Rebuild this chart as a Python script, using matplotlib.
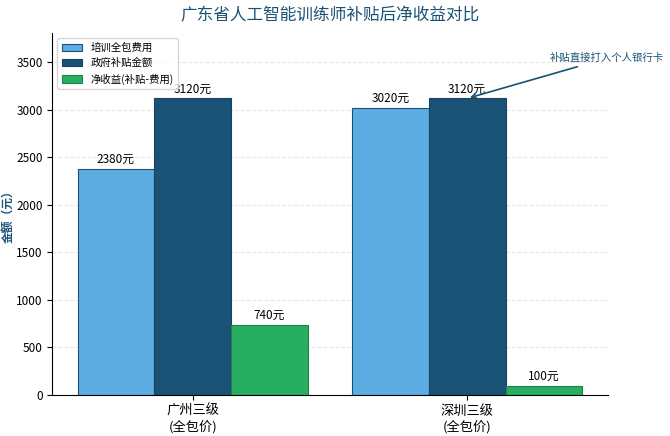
import numpy as np
import matplotlib.pyplot as plt

plt.rcParams['font.family'] = ['Noto Sans CJK SC', 'DejaVu Sans']
plt.rcParams['axes.unicode_minus'] = False

# 数据
cities = ['广州三级\n(全包价)', '深圳三级\n(全包价)']
fee = [2380, 3020]
subsidy = [3120, 3120]
net = [740, 100]
series_names = ['培训全包费用', '政府补贴金额', '净收益(补贴-费用)']

x = np.arange(len(cities))
w = 0.28

fig, ax = plt.subplots(figsize=(6.7, 4.36), dpi=100)
fig.subplots_adjust(left=0.078, right=0.907, top=0.924, bottom=0.094)

b1 = ax.bar(x - w, fee, w, color='#5DADE2', edgecolor='#1A5276', linewidth=0.8, label=series_names[0])
b2 = ax.bar(x, subsidy, w, color='#1A5276', edgecolor='#154360', linewidth=0.8, label=series_names[1])
b3 = ax.bar(x + w, net, w, color='#27AE60', edgecolor='#1E8449', linewidth=0.8, label=series_names[2])

# 数值标签
for bars in (b1, b2, b3):
    for b in bars:
        h = b.get_height()
        ax.text(b.get_x() + b.get_width() / 2, h + 30, f'{int(h)}元',
                ha='center', va='bottom', fontsize=8.5)

ax.set_ylim(0, max(subsidy) * 1.22)
ax.set_xticks(x)
ax.set_xticklabels(cities, fontsize=9.5)
ax.tick_params(axis='y', labelsize=8.5)
ax.set_ylabel('金额（元）', fontsize=8.5, color='#1A5276', fontweight='bold')
ax.yaxis.set_label_coords(-0.067, 0.5)
ax.set_title('广东省人工智能训练师补贴后净收益对比', fontsize=12, color='#1A5276', pad=9)

ax.grid(axis='y', linestyle='--', alpha=0.3)
ax.set_axisbelow(True)
ax.spines['top'].set_visible(False)
ax.spines['right'].set_visible(False)

ax.legend(loc='upper left', fontsize=7.5)

# 注释
ax.annotate('补贴直接打入个人银行卡', xy=(x[1], subsidy[1]), xytext=(1.51, 3543),
            ha='center', va='center', fontsize=7.5, color='#1A5276',
            arrowprops=dict(arrowstyle='->', color='#1A5276', lw=1.2))

plt.savefig('out.png')
